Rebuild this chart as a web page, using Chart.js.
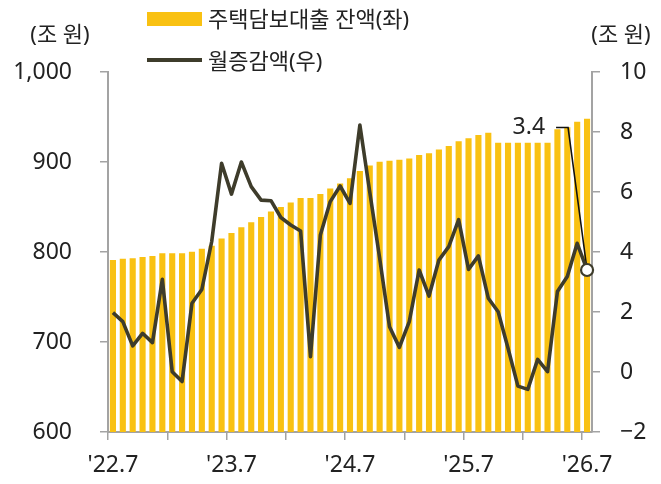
<!DOCTYPE html>
<html lang="ko">
<head>
<meta charset="UTF-8">
<meta name="viewport" content="width=device-width, initial-scale=1.0">
<title>주택담보대출 잔액과 월증감액</title>
<script src="https://cdn.jsdelivr.net/npm/chart.js"></script>
<style>
    body {
        margin: 0;
        background: #fff;
    }

    #wrap {
        position: relative;
        width: 661px;
        height: 484px;
        font-family: "Noto Sans", "Noto Sans CJK KR", sans-serif;
        color: #222;
    }

    #wrap canvas {
        position: absolute;
        left: 0;
        top: 0;
    }

    .unit {
        position: absolute;
        top: 20px;
        width: 90px;
        font-size: 22px;
        line-height: 26px;
        text-align: center;
    }

    .legend-text {
        position: absolute;
        left: 208px;
        font-size: 22px;
        line-height: 26px;
        white-space: nowrap;
    }

    .legend-box {
        position: absolute;
        left: 147px;
        width: 55px;
    }
</style>
</head>
<body>
<div id="wrap">
    <canvas id="chart" width="661" height="484"></canvas>
    <div class="unit" style="left: 15px;">(조 원)</div>
    <div class="unit" style="left: 576px;">(조 원)</div>
    <div class="legend-box" style="top: 12px; height: 14px; background: #f9c112;"></div>
    <div class="legend-text" style="top: 5px;">주택담보대출 잔액(좌)</div>
    <div class="legend-box" style="top: 58px; height: 4px; background: #3e3c2b;"></div>
    <div class="legend-text" style="top: 47px;">월증감액(우)</div>
</div>
<script>
    // 월별 (x축)
    const months = [
        "'22.7", "'22.8", "'22.9", "'22.10", "'22.11", "'22.12",
        "'23.1", "'23.2", "'23.3", "'23.4", "'23.5", "'23.6",
        "'23.7", "'23.8", "'23.9", "'23.10", "'23.11", "'23.12",
        "'24.1", "'24.2", "'24.3", "'24.4", "'24.5", "'24.6",
        "'24.7", "'24.8", "'24.9", "'24.10", "'24.11", "'24.12",
        "'25.1", "'25.2", "'25.3", "'25.4", "'25.5", "'25.6",
        "'25.7", "'25.8", "'25.9", "'25.10", "'25.11", "'25.12",
        "'26.1", "'26.2", "'26.3", "'26.4", "'26.5", "'26.6",
        "'26.7"
    ];

    // 주택담보대출 잔액 (조 원, 좌축)
    const balance = [
        791, 792.5, 793, 794.5, 795.5, 798.5,
        798.5, 798.5, 800.4, 803.5, 807, 815,
        821, 827.5, 833, 839, 845, 850,
        855, 860, 860, 864.5, 870.5, 876,
        882, 890, 896, 900.2, 901.5, 902.5,
        904, 907.8, 909.6, 914, 917.8, 923,
        926.3, 930, 932.6, 921.5, 921.5, 921.5,
        921.5, 921.5, 921.5, 936.3, 938.5, 944.8,
        948
    ];

    // 월증감액 (조 원, 우축)
    const monthlyChange = [
        1.98, 1.68, 0.87, 1.29, 0.98, 3.09,
        0.01, -0.32, 2.29, 2.75, 4.35, 6.96,
        5.93, 7.0, 6.18, 5.73, 5.71, 5.15,
        4.9, 4.7, 0.51, 4.57, 5.68, 6.2,
        5.62, 8.23, 6.0, 3.8, 1.51, 0.82,
        1.68, 3.4, 2.53, 3.73, 4.18, 5.08,
        3.42, 3.87, 2.46, 2.01, 0.79, -0.47,
        -0.58, 0.42, 0.01, 2.68, 3.18, 4.29,
        3.4
    ];

    // 축 범위
    const leftRange = [600, 1000, 100];
    const rightRange = [-2, 10, 2];

    const barColor = '#f9c112';
    const lineColor = '#3e3c2b';
    const axisColor = '#a3a3a3';

    Chart.defaults.font.family = '"Noto Sans", "Noto Sans CJK KR", sans-serif';
    Chart.defaults.font.size = 23;
    Chart.defaults.color = '#222';

    /* 마지막 값 표시 (지시선 + 숫자) */
    const lastValueLabel = {
        id: 'lastValueLabel',
        afterDatasetDraw(chart, args) {
            if (args.meta.type !== 'bar') return;
            const pts = chart.getDatasetMeta(0).data;
            const last = pts[pts.length - 1];
            const yR = chart.scales.yRight;
            const elbowX = last.x - 19;
            const elbowY = yR.getPixelForValue(8.15);
            const startX = elbowX - 12;
            const c = chart.ctx;
            c.save();
            c.strokeStyle = '#111';
            c.lineWidth = 1.6;
            c.beginPath();
            c.moveTo(startX, elbowY);
            c.lineTo(elbowX, elbowY);
            c.lineTo(last.x, last.y);
            c.stroke();
            c.font = '23px "Noto Sans"';
            c.fillStyle = '#222';
            c.textAlign = 'right';
            c.textBaseline = 'middle';
            c.fillText(monthlyChange[monthlyChange.length - 1].toFixed(1), startX - 11, elbowY);
            c.restore();
        }
    };

    const ctx = document.getElementById('chart').getContext('2d');
    new Chart(ctx, {
        type: 'bar',
        data: {
            labels: months,
            datasets: [
                {
                    type: 'line',
                    label: '월증감액(우)',
                    data: monthlyChange,
                    yAxisID: 'yRight',
                    order: 0,
                    borderColor: lineColor,
                    borderWidth: 3.6,
                    borderJoinStyle: 'round',
                    tension: 0,
                    pointRadius: c => c.dataIndex === monthlyChange.length - 1 ? 6 : 0,
                    pointBackgroundColor: '#fff',
                    pointBorderColor: lineColor,
                    pointBorderWidth: 2.2
                },
                {
                    type: 'bar',
                    label: '주택담보대출 잔액(좌)',
                    data: balance,
                    yAxisID: 'yLeft',
                    order: 1,
                    backgroundColor: barColor,
                    categoryPercentage: 1,
                    barPercentage: 0.62
                }
            ]
        },
        options: {
            responsive: false,
            animation: false,
            layout: { padding: { top: 72, left: 0, right: 0, bottom: 0 } },
            plugins: {
                legend: { display: false },
                tooltip: { enabled: false }
            },
            scales: {
                x: {
                    offset: true,
                    grid: {
                        offset: true,
                        drawOnChartArea: false,
                        color: c => c.index % 6 === 0 ? axisColor : 'transparent',
                        lineWidth: 1.5,
                        tickLength: 8
                    },
                    border: { color: axisColor, width: 2 },
                    ticks: {
                        autoSkip: false,
                        maxRotation: 0,
                        padding: 12,
                        callback(v, i) {
                            return i % 12 === 0 ? this.getLabelForValue(v) : '';
                        }
                    },
                    afterFit(s) { s.height = 52; }
                },
                yLeft: {
                    position: 'left',
                    min: leftRange[0],
                    max: leftRange[1],
                    ticks: { stepSize: leftRange[2], padding: 28 },
                    grid: { drawOnChartArea: false, color: axisColor, lineWidth: 1.5, tickLength: 8 },
                    border: { color: axisColor, width: 2 },
                    afterFit(s) { s.width = 108; }
                },
                yRight: {
                    position: 'right',
                    min: rightRange[0],
                    max: rightRange[1],
                    ticks: {
                        stepSize: rightRange[2],
                        padding: 20,
                        callback: v => String(v).replace('-', '\u2212')
                    },
                    grid: { drawOnChartArea: false, color: axisColor, lineWidth: 1.5, tickLength: 8 },
                    border: { color: axisColor, width: 2 },
                    afterFit(s) { s.width = 69; }
                }
            }
        },
        plugins: [lastValueLabel]
    });
</script>
</body>
</html>
